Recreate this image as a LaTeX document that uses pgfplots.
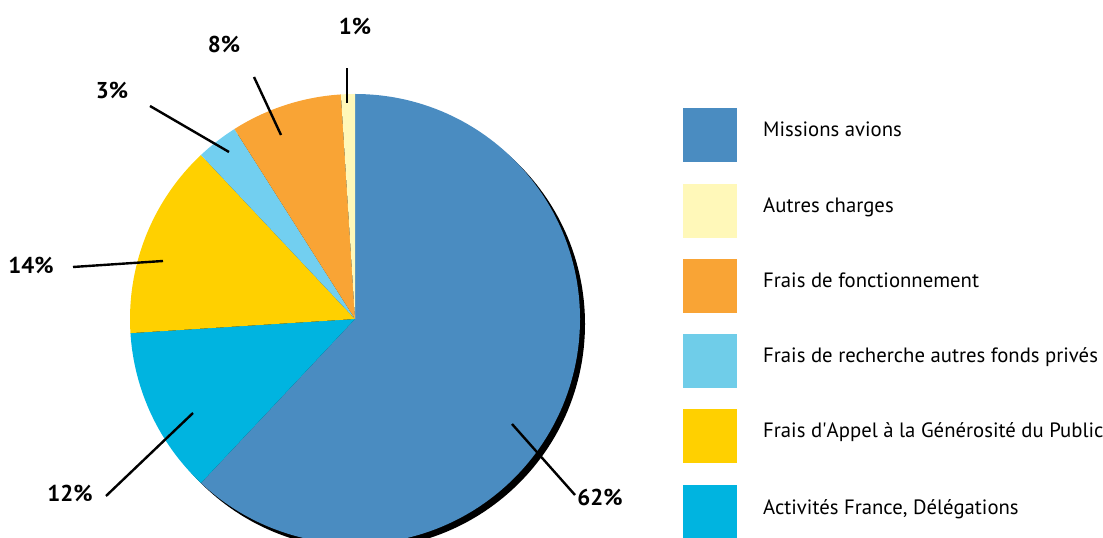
\documentclass[border=0pt]{standalone}
\usepackage{pgfplots}
\usepackage{pgfplotstable}
\pgfplotsset{compat=1.18}
\usepackage{fontspec}
\setmainfont{PT Sans}
\definecolor{cMis}{HTML}{4A8CC1}
\definecolor{cAct}{HTML}{00B4E0}
\definecolor{cGen}{HTML}{FFD000}
\definecolor{cRech}{HTML}{72CFF0}
\definecolor{cRechL}{HTML}{6FCDE9}
\definecolor{cFonc}{HTML}{F9A435}
\definecolor{cAut}{HTML}{FFF8B9}

% slices clockwise from 12 o'clock
\pgfplotstableread{
value color
62 cMis
12 cAct
14 cGen
3 cRech
8 cFonc
1 cAut
}\piedata

% labels: line start (x0,y0), line end (x1,y1), label position
\pgfplotstableread{
x0 y0 x1 y1 lx ly txt
512 114 575 43 600 41 62
193 125 106 42 70 45 12
163 277 73 271 31 273 14
229 386 150 432 112 448 3
281 403 254 461 224 494 8
347 435 347 470 355 512 1
}\labdata

% legend: text baseline y, lower y, upper y of square, colour, text
\pgfplotstableread[col sep=semicolon]{
yb;yl;yh;color;name
401;376;430;cMis;Missions avions
325;300;354;cAut;Autres charges
250;225;279;cFonc;Frais de fonctionnement
175;150;204;cRechL;Frais de recherche autres fonds privés
100;75;129;cGen;Frais d\textquotesingle Appel à la Générosité du Public
24;-1;53;cAct;Activités France, Délégations
}\legdata

\begin{document}
\begin{tikzpicture}
\begin{axis}[
  width=1103bp, height=538bp, scale only axis,
  xmin=0, xmax=1103, ymin=0, ymax=538,
  hide axis, clip=true,
]
\addplot[draw=none] coordinates {(0,0) (1103,538)};
% shadow
\fill[black] (axis cs:360,214) circle[radius=225];
\def\angA{90}
\pgfplotsforeachungrouped \i in {0,...,5}{%
  \pgfplotstablegetelem{\i}{value}\of\piedata \let\v\pgfplotsretval
  \pgfplotstablegetelem{\i}{color}\of\piedata \let\c\pgfplotsretval
  \pgfmathsetmacro\angB{\angA-3.6*\v}%
  \pgfmathsetmacro\xs{355+225*cos(\angA)}%
  \pgfmathsetmacro\ys{219+225*sin(\angA)}%
  \edef\temp{\noexpand\fill[\c] (axis cs:355,219) -- (axis cs:\xs,\ys) arc[start angle=\angA, end angle=\angB, radius=225] -- cycle;}%
  \temp
  \global\let\angA\angB
}
\pgfplotsforeachungrouped \i in {0,...,5}{%
  \pgfplotstablegetelem{\i}{x0}\of\labdata \let\xa\pgfplotsretval
  \pgfplotstablegetelem{\i}{y0}\of\labdata \let\ya\pgfplotsretval
  \pgfplotstablegetelem{\i}{x1}\of\labdata \let\xb\pgfplotsretval
  \pgfplotstablegetelem{\i}{y1}\of\labdata \let\yb\pgfplotsretval
  \pgfplotstablegetelem{\i}{lx}\of\labdata \let\lx\pgfplotsretval
  \pgfplotstablegetelem{\i}{ly}\of\labdata \let\ly\pgfplotsretval
  \pgfplotstablegetelem{\i}{txt}\of\labdata \let\tx\pgfplotsretval
  \edef\temp{\noexpand\draw[black, line width=2.4bp] (axis cs:\xa,\ya) -- (axis cs:\xb,\yb);
    \noexpand\node[font=\noexpand\fontsize{23}{27}\noexpand\selectfont\noexpand\bfseries, inner sep=0pt] at (axis cs:\lx,\ly) {\tx\noexpand\%};}%
  \temp
}
% legend
\pgfplotsforeachungrouped \i in {0,...,5}{%
  \pgfplotstablegetelem{\i}{yb}\of\legdata \let\yb\pgfplotsretval
  \pgfplotstablegetelem{\i}{yl}\of\legdata \let\yl\pgfplotsretval
  \pgfplotstablegetelem{\i}{yh}\of\legdata \let\yh\pgfplotsretval
  \pgfplotstablegetelem{\i}{color}\of\legdata \let\c\pgfplotsretval
  \pgfplotstablegetelem{\i}{name}\of\legdata \let\nm\pgfplotsretval
  \edef\temp{\noexpand\fill[\c] (axis cs:683,\yl) rectangle (axis cs:737,\yh);
    \noexpand\node[anchor=base west, inner sep=0pt, font=\noexpand\fontsize{20.8}{25}\noexpand\selectfont] at (axis cs:763,\yb) {\unexpanded\expandafter{\nm}};}%
  \temp
}
\end{axis}
\pgfresetboundingbox
\path (current axis.south west) rectangle (current axis.north east);
\end{tikzpicture}
\end{document}
